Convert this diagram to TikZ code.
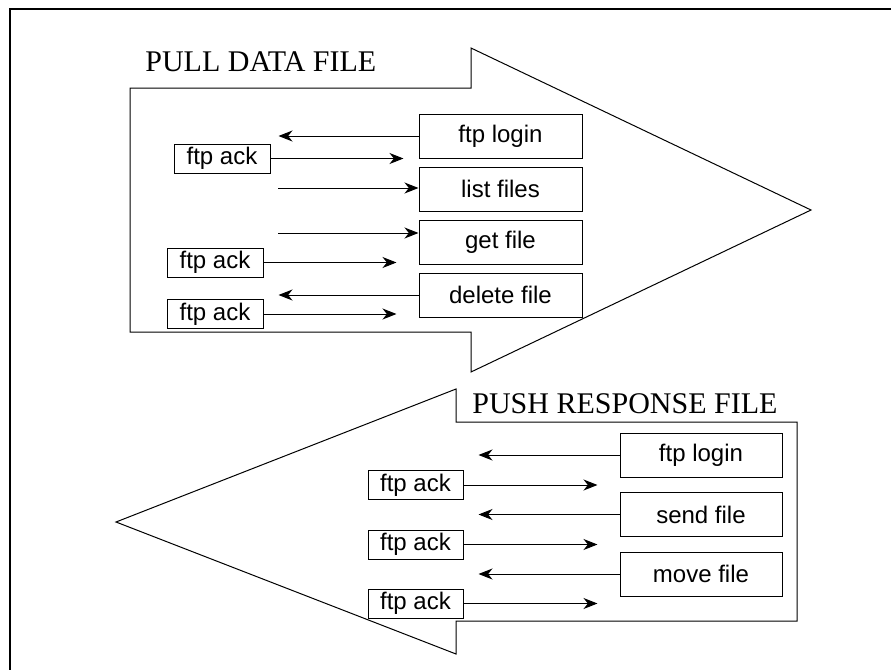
\documentclass[tikz,border=0pt]{standalone}
\usepackage{fontspec}
\setmainfont{Liberation Serif}
\setsansfont{Liberation Sans}
\usepackage{tikz}
\usetikzlibrary{arrows.meta,positioning}

\tikzset{
  cmd/.style = {draw, shape = rectangle, line width = 0.5pt, inner sep = 0pt, minimum width = 81.5pt, minimum height = 22pt, font = \sffamily\fontsize{12}{14}\selectfont},
  ack/.style = {draw, shape = rectangle, line width = 0.5pt, inner sep = 0pt, minimum width = 48pt, minimum height = 14.5pt, font = \sffamily\fontsize{12}{14}\selectfont},
  msg/.style = {line width = 0.5pt, -{Stealth[length = 7pt, width = 5.5pt, inset = 2.2pt]}},
  bigarrow/.style = {draw, line width = 0.5pt},
  title/.style = {anchor = base west, inner sep = 0pt, font = \rmfamily\fontsize{15}{17}\selectfont}
}

\begin{document}
\begin{tikzpicture}[x = 0.5pt, y = -0.5pt]
\clip (0,0) rectangle (891,670);
\draw[line width = 1pt] (10,9) rectangle (900,690);

% pull data file
\draw[bigarrow] (130,88) -- (471,88) -- (471,48) -- (811,210) -- (471,372) -- (471,332) -- (130,332) -- cycle;
\node[title] (pulltitle) at (145,71) {PULL DATA FILE};
\node[cmd] (login) at (500.5,136) {ftp login};
\node[cmd, below = 4pt of login] (list) {list files};
\node[cmd, below = 4pt of list] (get) {get file};
\node[cmd, below = 4pt of get] (delete) {delete file};
\node[ack] (ack1) at (222,158.5) {ftp ack};
\node[ack] (ack2) at (215,262.5) {ftp ack};
\node[ack] (ack3) at (215,314) {ftp ack};
\coordinate (l0) at (278,188);
\coordinate (g0) at (278,233);
\draw[msg] (login.west) -- ++(-140,0);
\draw[msg] (ack1.east) -- ++(133,0);
\draw[msg] (l0) -- (l0 -| list.west);
\draw[msg] (g0) -- (g0 -| get.west);
\draw[msg] (ack2.east) -- ++(133,0);
\draw[msg] (delete.west) -- ++(-140,0);
\draw[msg] (ack3.east) -- ++(133,0);

% push response file
\draw[bigarrow] (797,422) -- (456,422) -- (456,389) -- (116,522) -- (456,654) -- (456,621) -- (797,621) -- cycle;
\node[title] (pushtitle) at (472,413) {PUSH RESPONSE FILE};
\node[cmd, minimum width = 81pt] (rlogin) at (701,455) {ftp login};
\node[cmd, minimum width = 81pt] (send) at (701,514.5) {send file};
\node[cmd, minimum width = 81pt] (move) at (701,574) {move file};
\node[ack, minimum width = 47.5pt] (rack1) at (415.5,485) {ftp ack};
\node[ack, minimum width = 47.5pt] (rack2) at (415.5,544.5) {ftp ack};
\node[ack, minimum width = 47.5pt] (rack3) at (415.5,603.5) {ftp ack};
\draw[msg] (rlogin.west) -- ++(-141,0);
\draw[msg] (rack1.east) -- ++(134,0);
\draw[msg] (send.west) -- ++(-141,0);
\draw[msg] (rack2.east) -- ++(134,0);
\draw[msg] (move.west) -- ++(-141,0);
\draw[msg] (rack3.east) -- ++(134,0);
\end{tikzpicture}
\end{document}
